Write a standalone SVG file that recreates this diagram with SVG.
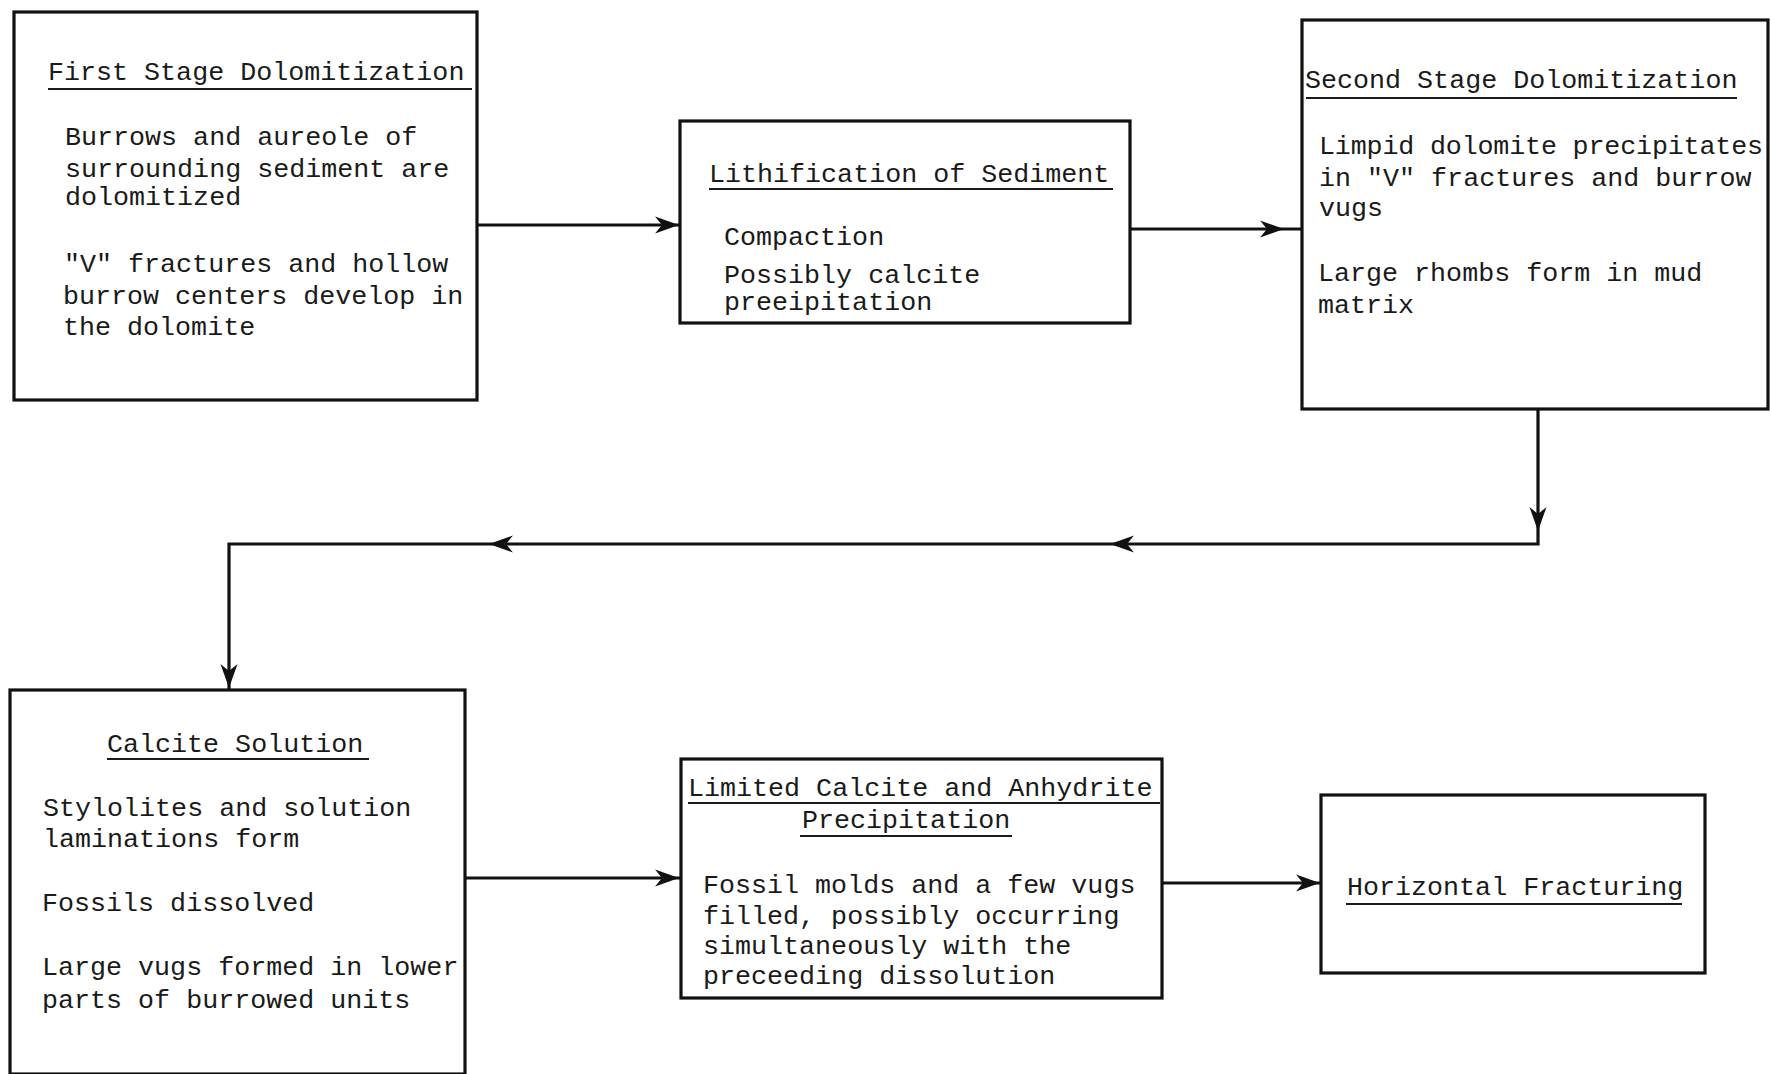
<svg xmlns="http://www.w3.org/2000/svg" xmlns:xlink="http://www.w3.org/1999/xlink" width="1771" height="1074" viewBox="0 0 1771 1074">
<style>
.box{fill:#fff;stroke:#111;stroke-width:3.2}
.t{font-family:"Liberation Mono","Courier New",monospace;font-size:26.7px;fill:#1a1a1a}
.ul{stroke:#1a1a1a;stroke-width:1.8}
.con{fill:none;stroke:#111;stroke-width:3.2}
.ah{fill:#111}
</style>
<defs>
<path id="ah" d="M0,0 L-24,-8.5 L-17,0 L-24,8.5 Z"/>
</defs>
<rect width="1771" height="1074" fill="#fff"/>
<g id="connectors">
<path class="con" d="M477,225 H680"/>
<path class="con" d="M1130,229 H1301"/>
<path class="con" d="M1538,410 V544 H229 V689"/>
<path class="con" d="M466,878 H681"/>
<path class="con" d="M1162,883 H1321"/>
<use xlink:href="#ah" class="ah" transform="translate(679,225)"/>
<use xlink:href="#ah" class="ah" transform="translate(1284,229)"/>
<use xlink:href="#ah" class="ah" transform="translate(1538,531) rotate(90)"/>
<use xlink:href="#ah" class="ah" transform="translate(1110,544) rotate(180)"/>
<use xlink:href="#ah" class="ah" transform="translate(489,544) rotate(180)"/>
<use xlink:href="#ah" class="ah" transform="translate(229,688) rotate(90)"/>
<use xlink:href="#ah" class="ah" transform="translate(679,878)"/>
<use xlink:href="#ah" class="ah" transform="translate(1320,883)"/>
</g>
<g id="node-first-stage">
<rect class="box" x="14" y="12" width="463" height="388"/>
<text class="t" x="48" y="80">First Stage Dolomitization</text>
<line class="ul" x1="48" y1="89" x2="472" y2="89"/>
<text class="t" x="65" y="145">Burrows and aureole of</text>
<text class="t" x="65" y="177">surrounding sediment are</text>
<text class="t" x="65" y="205">dolomitized</text>
<text class="t" x="64" y="272">"V" fractures and hollow</text>
<text class="t" x="63" y="304">burrow centers develop in</text>
<text class="t" x="63" y="335">the dolomite</text>
</g>
<g id="node-lithification">
<rect class="box" x="680" y="121" width="450" height="202"/>
<text class="t" x="709" y="182">Lithification of Sediment</text>
<line class="ul" x1="709" y1="189" x2="1113" y2="189"/>
<text class="t" x="724" y="245">Compaction</text>
<text class="t" x="724" y="283">Possibly calcite</text>
<text class="t" x="724" y="310">preeipitation</text>
</g>
<g id="node-second-stage">
<rect class="box" x="1302" y="20" width="466" height="389"/>
<text class="t" x="1305" y="88">Second Stage Dolomitization</text>
<line class="ul" x1="1306" y1="98" x2="1737" y2="98"/>
<text class="t" x="1319" y="154" textLength="444" lengthAdjust="spacing">Limpid dolomite precipitates</text>
<text class="t" x="1319" y="186">in "V" fractures and burrow</text>
<text class="t" x="1319" y="216">vugs</text>
<text class="t" x="1318" y="281">Large rhombs form in mud</text>
<text class="t" x="1318" y="313">matrix</text>
</g>
<g id="node-calcite-solution">
<rect class="box" x="10" y="690" width="455" height="384"/>
<text class="t" x="107" y="752">Calcite Solution</text>
<line class="ul" x1="107" y1="759" x2="369" y2="759"/>
<text class="t" x="43" y="816">Stylolites and solution</text>
<text class="t" x="43" y="847">laminations form</text>
<text class="t" x="42" y="911">Fossils dissolved</text>
<text class="t" x="42" y="975">Large vugs formed in lower</text>
<text class="t" x="42" y="1008">parts of burrowed units</text>
</g>
<g id="node-limited-calcite">
<rect class="box" x="681" y="759" width="481" height="239"/>
<text class="t" x="688" y="796">Limited Calcite and Anhydrite</text>
<line class="ul" x1="688" y1="803" x2="1160" y2="803"/>
<text class="t" x="802" y="828">Precipitation</text>
<line class="ul" x1="800" y1="836" x2="1012" y2="836"/>
<text class="t" x="703" y="893">Fossil molds and a few vugs</text>
<text class="t" x="703" y="924">filled, possibly occurring</text>
<text class="t" x="703" y="954">simultaneously with the</text>
<text class="t" x="703" y="984">preceeding dissolution</text>
</g>
<g id="node-horizontal-fracturing">
<rect class="box" x="1321" y="795" width="384" height="178"/>
<text class="t" x="1347" y="895">Horizontal Fracturing</text>
<line class="ul" x1="1346" y1="904" x2="1682" y2="904"/>
</g>
</svg>
